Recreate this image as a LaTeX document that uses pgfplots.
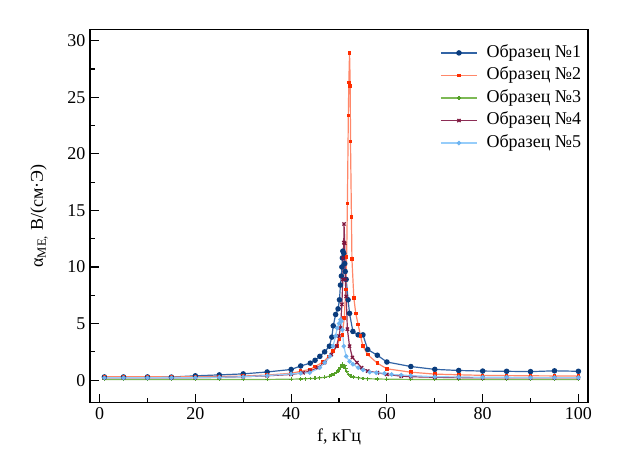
\documentclass[border=0pt]{standalone}
\usepackage{fontspec}
\setmainfont{Liberation Serif}
\usepackage{pgfplots}
\pgfplotsset{compat=1.18}
\definecolor{c1l}{RGB}{50,100,165}
\definecolor{c1m}{RGB}{10,60,125}
\definecolor{c2l}{RGB}{255,135,105}
\definecolor{c2m}{RGB}{255,45,0}
\definecolor{c3l}{RGB}{125,185,85}
\definecolor{c3m}{RGB}{85,160,40}
\definecolor{c4l}{RGB}{140,45,85}
\definecolor{c4m}{RGB}{125,20,60}
\definecolor{c5l}{RGB}{150,205,250}
\definecolor{c5m}{RGB}{110,180,240}
\newcommand{\fs}{\fontsize{13.5pt}{16pt}\selectfont}
\begin{document}
\begin{tikzpicture}
\useasboundingbox (-67.5pt,-48.2pt) rectangle ++(467.25pt,350.25pt);
\begin{axis}[
  at={(0pt,0pt)}, anchor=south west,
  scale only axis, width=373.5pt, height=280pt,
  xmin=-2, xmax=102, ymin=-2, ymax=31,
  xtick={0,20,...,100}, ytick={0,5,...,30},
  minor tick num=1,
  tick align=inside, xtick pos=left, ytick pos=left,
  major tick length=6.75pt, minor tick length=3.75pt,
  axis line style={line width=0.9pt},
  every tick/.style={line width=0.8pt, black},
  /pgf/number format/assume math mode=true,
  tick label style={font=\fs},
  label style={font=\fs},
  xlabel={f, кГц},
  ylabel={α\textsubscript{ME,} В/(см·Э)},
  xlabel style={at={(axis description cs:0.5,-0.105)}, anchor=base},
  ylabel style={at={(axis description cs:-0.0944,0.5)}, anchor=base},
  legend cell align=left,
  legend style={draw=none, fill=none, font=\fs, at={(rel axis cs:0.703,0.96)}, anchor=north west,
    inner sep=0pt, row sep=4.4pt, column sep=6.75pt,
    nodes={inner sep=0pt, text height=9.5pt, text depth=3pt}},
  legend image code/.code={\draw[mark repeat=2,mark phase=2,#1] plot coordinates {(0pt,0pt)(13.5pt,0pt)(27pt,0pt)};},
]
\addplot[color=c1l, line width=0.9pt, mark=*, mark size=1.6pt, mark options={fill=c1m, draw=c1m}] coordinates {
(1,0.28)(5,0.28)(10,0.28)(15,0.27)(20,0.38)(25,0.46)(30,0.55)(35,0.72)(40,0.94)(42,1.25)(44,1.5)(45,1.75)(46,2.1)(47,2.5)(48,3.0)(48.5,3.8)(48.8,4.8)(49.3,5.8)(49.8,6.3)(50.1,7.1)(50.3,8.4)(50.5,9.2)(50.6,10.0)(50.7,10.8)(50.8,11.4)(51,11.2)(51.2,10.3)(51.3,9.6)(51.5,8.9)(51.9,7.1)(52.2,5.9)(52.9,4.3)(54,4.0)(55,4.0)(56,2.7)(58,2.2)(60,1.6)(65,1.2)(70,0.95)(75,0.85)(80,0.8)(85,0.78)(90,0.75)(95,0.82)(100,0.78)
};
\addlegendentry{Образец №1}
\addplot[color=c2l, line width=0.9pt, mark=square*, mark size=0.9pt, mark options={fill=c2m, draw=c2m}] coordinates {
(1,0.3)(5,0.3)(10,0.3)(15,0.28)(20,0.3)(25,0.32)(30,0.36)(35,0.45)(40,0.6)(42,0.78)(44,0.95)(45,1.2)(46.7,1.6)(47.9,2.1)(48.75,2.55)(49.6,3.0)(50.1,3.6)(50.7,4.0)(51.1,5.5)(51.4,8.0)(51.6,10.9)(51.75,15.6)(51.95,23.4)(52.05,26.3)(52.2,28.9)(52.35,26.0)(52.4,21.1)(52.6,14.4)(52.7,10.7)(53.1,7.25)(53.5,5.9)(54,4.9)(54.5,3.9)(55,3.0)(56,2.25)(58,1.5)(60,1.0)(65,0.7)(70,0.53)(75,0.47)(80,0.42)(85,0.4)(90,0.38)(95,0.37)(100,0.36)
};
\addlegendentry{Образец №2}
\addplot[color=c3l, line width=0.9pt, mark=+, mark size=1.4pt, mark options={draw=c3m}] coordinates {
(1,0.05)(5,0.05)(10,0.05)(15,0.05)(20,0.05)(25,0.05)(30,0.05)(35,0.06)(40,0.08)(42,0.1)(43,0.12)(44,0.14)(45,0.16)(46,0.2)(47,0.25)(48,0.35)(48.5,0.45)(49,0.55)(49.5,0.7)(49.8,0.8)(50,0.95)(50.3,1.1)(50.5,1.25)(50.7,1.4)(51,1.15)(51.2,1.3)(51.4,1.0)(51.6,0.75)(52,0.5)(52.5,0.35)(53,0.28)(54,0.2)(55,0.15)(56,0.12)(58,0.1)(60,0.08)(65,0.06)(70,0.05)(75,0.05)(80,0.05)(85,0.05)(90,0.05)(95,0.05)(100,0.05)
};
\addlegendentry{Образец №3}
\addplot[color=c4l, line width=0.9pt, mark=x, mark size=1.7pt, mark options={draw=c4m}] coordinates {
(1,0.2)(5,0.2)(10,0.2)(15,0.2)(20,0.22)(25,0.25)(30,0.3)(35,0.38)(40,0.5)(42.5,0.65)(43.9,0.8)(45.6,1.1)(47,1.55)(48.4,2.25)(49.5,3.0)(50,3.9)(50.3,4.6)(50.6,6.7)(50.8,8.9)(50.85,10.8)(51,12.15)(51.05,13.8)(51.2,12.1)(51.3,8.9)(51.5,7.4)(51.75,4.5)(52.2,3.0)(52.8,2.0)(53.75,1.55)(54.7,1.1)(56,0.8)(58,0.65)(60,0.5)(63,0.35)(65,0.3)(70,0.25)(75,0.22)(80,0.2)(85,0.2)(90,0.2)(95,0.2)(100,0.2)
};
\addlegendentry{Образец №4}
\addplot[color=c5l, line width=0.9pt, mark=*, mark size=1.2pt, mark options={fill=c5m, draw=c5m}] coordinates {
(1,0.2)(5,0.2)(10,0.2)(15,0.2)(20,0.22)(25,0.25)(30,0.3)(35,0.4)(40,0.55)(42,0.6)(43.9,0.65)(46,1.1)(47,1.55)(48.1,2.1)(48.75,3.0)(49.3,3.9)(49.6,4.6)(50,5.0)(50.3,5.35)(50.5,5.2)(50.7,4.45)(51,3.0)(51.5,2.1)(52.2,1.65)(52.9,1.4)(54,1.1)(55,0.9)(56.4,0.7)(57.8,0.65)(59.5,0.6)(61,0.5)(63,0.45)(65,0.4)(70,0.3)(75,0.28)(80,0.25)(85,0.25)(90,0.22)(95,0.22)(100,0.22)
};
\addlegendentry{Образец №5}
\end{axis}
\end{tikzpicture}
\end{document}
